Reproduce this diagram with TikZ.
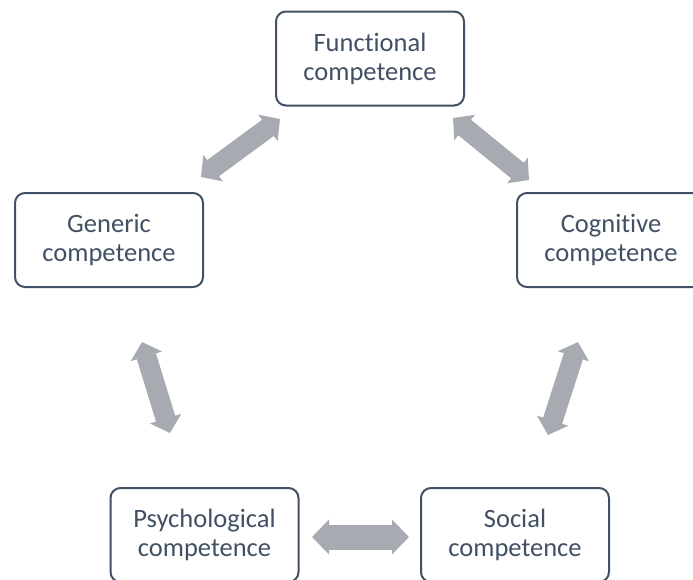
\documentclass[tikz,border=0pt]{standalone}
\usepackage{fontspec}
\setmainfont[Ligatures=NoCommon]{Carlito}
\usetikzlibrary{arrows.meta}
\definecolor{slate}{RGB}{66,80,100}
\definecolor{linkgray}{RGB}{167,170,176}
\begin{document}
\begin{tikzpicture}[x=1pt,y=-1pt,
  compbox/.style={draw=slate, line width=2pt, rounded corners=10pt, fill=white,
    minimum width=188pt, minimum height=94pt, inner sep=0pt, align=center,
    text=slate, font=\fontsize{26.5}{29}\selectfont},
  link/.style={draw=linkgray, line width=20pt,
    {Triangle[length=15pt,width=32pt]}-{Triangle[length=15pt,width=32pt]}},
  widelink/.style={draw=linkgray, line width=25pt,
    {Triangle[length=17pt,width=34pt]}-{Triangle[length=17pt,width=34pt]}}]
\useasboundingbox (0,0) rectangle (693,579);

% competence boxes
\node[compbox] (func) at (370,58.5) {Functional\\competence};
\node[compbox] (gen)  at (109,240)  {Generic\\competence};
\node[compbox] (cog)  at (611,240)  {Cognitive\\competence};
\node[compbox] (psy)  at (204.5,535) {Psychological\\competence};
\node[compbox] (soc)  at (515,535)  {Social\\competence};

% arrow end points
\coordinate (fgA) at (280,119);
\coordinate (fgB) at (201,177);
\coordinate (fcA) at (453,118);
\coordinate (fcB) at (529,180);
\coordinate (gpA) at (142,342);
\coordinate (gpB) at (170,433);
\coordinate (csA) at (578,342);
\coordinate (csB) at (548,435);
\coordinate (psA) at (312,537);
\coordinate (psB) at (409,537);

% two-way links
\draw[link] (fgA) -- (fgB);
\draw[link] (fcA) -- (fcB);
\draw[link] (gpA) -- (gpB);
\draw[link] (csA) -- (csB);
\draw[widelink] (psA) -- (psB);
\end{tikzpicture}
\end{document}
